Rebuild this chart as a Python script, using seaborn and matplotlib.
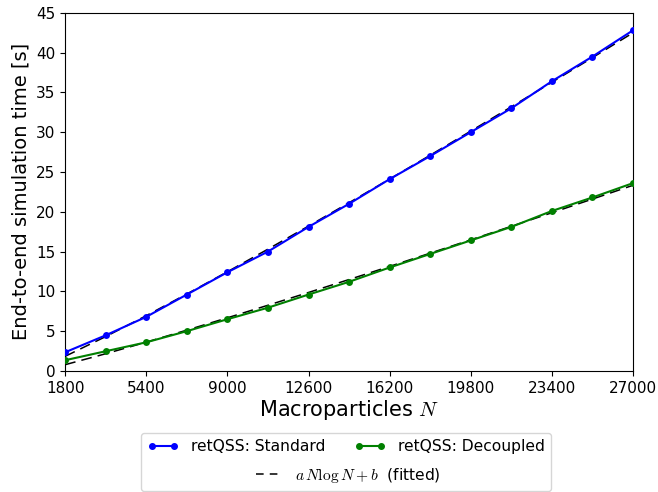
import numpy as np
import pandas as pd
import matplotlib
matplotlib.use("Agg")
import matplotlib.pyplot as plt
import seaborn as sns
from matplotlib.offsetbox import HPacker, VPacker

particles = [1800, 3600, 5400, 7200, 9000, 10800, 12600, 14400,
             16200, 18000, 19800, 21600, 23400, 25200, 27000]
time_standard = [2.35, 4.48, 6.8, 9.6, 12.4, 15.0, 18.1, 21.0,
                 24.1, 27.0, 30.0, 33.0, 36.4, 39.5, 42.8]
time_decoupled = [1.35, 2.48, 3.6, 5.0, 6.5, 7.95, 9.6, 11.2,
                  13.0, 14.7, 16.4, 18.1, 20.1, 21.8, 23.6]

x_ticks = [1800, 5400, 9000, 12600, 16200, 19800, 23400, 27000]

plt.rcParams['mathtext.fontset'] = 'cm'


def fit_nlogn(n, t):
    """a N log N + b 최소제곱 피팅"""
    n = np.asarray(n, dtype=float)
    A = np.column_stack([n * np.log(n), np.ones_like(n)])
    coef, *_ = np.linalg.lstsq(A, np.asarray(t, dtype=float), rcond=None)
    return A @ coef


df = pd.DataFrame({
    'N': particles * 2,
    'time': time_standard + time_decoupled,
    'series': ['retQSS: Standard'] * len(particles) + ['retQSS: Decoupled'] * len(particles),
})

fig = plt.figure(figsize=(6.58, 4.92), dpi=100)
ax = fig.add_axes([0.099, 0.246, 0.863, 0.728])

# 피팅 곡선
fit_df = pd.DataFrame({
    'N': particles * 2,
    'fit': list(fit_nlogn(particles, time_standard)) + list(fit_nlogn(particles, time_decoupled)),
    'series': ['std'] * len(particles) + ['dec'] * len(particles),
})
sns.lineplot(data=fit_df, x='N', y='fit', units='series', estimator=None,
             color='black', linestyle=(0, (7, 4)), linewidth=1.1, ax=ax,
             legend=False, zorder=2)

sns.lineplot(data=df, x='N', y='time', hue='series',
             palette={'retQSS: Standard': 'blue', 'retQSS: Decoupled': 'green'},
             marker='o', markersize=5, markeredgewidth=0, linewidth=1.5,
             ax=ax, legend=False, zorder=3)

ax.set_xlim(1800, 27000)
ax.set_ylim(0, 45)
ax.set_xticks(x_ticks)
ax.set_yticks(range(0, 46, 5))
ax.tick_params(labelsize=11)
ax.set_xlabel(r'Macroparticles $N$', fontsize=15, labelpad=2)
ax.set_ylabel('End-to-end simulation time [s]', fontsize=14)

h1 = plt.Line2D([], [], color='blue', marker='o', markersize=4, lw=1.5)
h2 = plt.Line2D([], [], color='green', marker='o', markersize=4, lw=1.5)
h3 = plt.Line2D([], [], color='black', linestyle=(0, (5, 4)), lw=1.1)
fs = 11.2
leg = ax.legend([h1, h2, h3],
                ['retQSS: Standard', 'retQSS: Decoupled', r'$a\,N\log N + b$  (fitted)'],
                loc='upper center', bbox_to_anchor=(0.495, -0.173), ncol=1,
                borderaxespad=0, fontsize=fs, numpoints=2, labelspacing=0.75,
                columnspacing=1.9)

# 범례: 첫 줄 2개, 둘째 줄 가운데 1개
items = leg._legend_handle_box.get_children()[0].get_children()
row1 = HPacker(pad=0, sep=leg.columnspacing * fs, align='baseline', children=items[:2])
grid = VPacker(pad=0, sep=leg.labelspacing * fs, align='center', children=[row1, items[2]])
leg._legend_box._children = [leg._legend_title_box, grid]

fig.savefig('out.png', dpi=100)
